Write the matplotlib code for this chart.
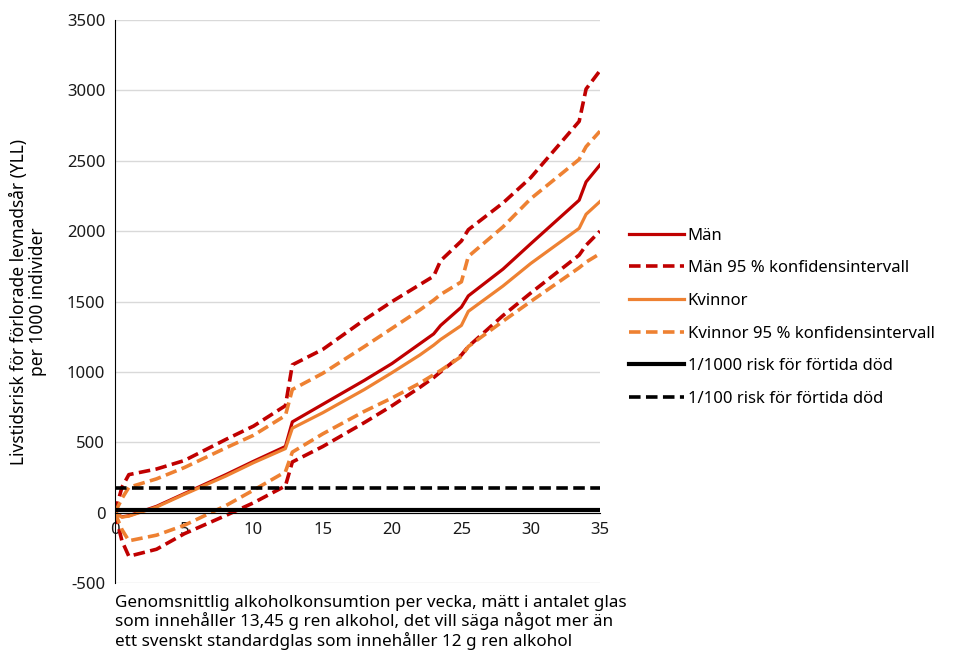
import matplotlib
matplotlib.use("Agg")
import matplotlib.pyplot as plt

plt.rcParams['font.family'] = ['Noto Sans', 'DejaVu Sans']
plt.rcParams['axes.unicode_minus'] = False

# glas per vecka
x = [0, 0.5, 1, 3, 5, 8, 10, 12.3, 12.8, 15, 18, 20, 22, 23, 23.5, 25, 25.5, 28, 30, 33.5, 34, 35]

man = [0, -30, -22, 45, 135, 270, 365, 470, 645, 770, 940, 1060, 1200, 1270, 1330, 1460, 1540, 1730, 1910, 2220, 2350, 2470]
man_hog = [0, 180, 270, 310, 370, 520, 615, 760, 1050, 1160, 1370, 1500, 1620, 1680, 1790, 1930, 2010, 2200, 2380, 2780, 3010, 3140]
man_lag = [0, -200, -310, -260, -150, -20, 70, 190, 360, 470, 640, 760, 890, 960, 1000, 1120, 1180, 1400, 1560, 1830, 1900, 2000]

kvinnor = [0, -32, -25, 40, 130, 260, 355, 455, 600, 710, 875, 995, 1120, 1190, 1230, 1330, 1430, 1610, 1770, 2020, 2120, 2210]
kv_hog = [0, 100, 180, 240, 320, 460, 550, 690, 875, 990, 1180, 1310, 1440, 1510, 1550, 1640, 1820, 2030, 2230, 2510, 2600, 2710]
kv_lag = [0, -120, -200, -160, -90, 50, 160, 290, 430, 560, 720, 815, 920, 980, 1010, 1110, 1180, 1360, 1500, 1740, 1780, 1840]

risk_1000 = 18
risk_100 = 178

red = '#C00000'
orange = '#EE8132'

fig = plt.figure(figsize=(9.63, 6.52), dpi=100)
ax = fig.add_axes([0.1194, 0.1058, 0.5036, 0.8635])

ax.plot(x, man, color=red, lw=2.3, label='Män')
ax.plot(x, man_hog, color=red, lw=2.6, dashes=(3.2, 1.5), label='Män 95 % konfidensintervall')
ax.plot(x, man_lag, color=red, lw=2.6, dashes=(3.2, 1.5))
ax.plot(x, kvinnor, color=orange, lw=2.3, label='Kvinnor')
ax.plot(x, kv_hog, color=orange, lw=2.6, dashes=(3.2, 1.5), label='Kvinnor 95 % konfidensintervall')
ax.plot(x, kv_lag, color=orange, lw=2.6, dashes=(3.2, 1.5))
ax.plot([0, 35], [risk_1000, risk_1000], color='black', lw=3, label='1/1000 risk för förtida död')
ax.plot([0, 35], [risk_100, risk_100], color='black', lw=2.6, dashes=(3.2, 1.5), label='1/100 risk för förtida död')

ax.set_xlim(0, 35)
ax.set_ylim(-500, 3500)
ax.set_yticks(range(-500, 3501, 500))
ax.set_xticks(range(0, 36, 5))
ax.grid(axis='y', color='#D9D9D9', lw=1)
ax.set_axisbelow(True)
for s in ['top', 'right']:
    ax.spines[s].set_visible(False)
ax.spines['bottom'].set_position(('data', 0))
ax.spines['bottom'].set_color('black')
ax.spines['left'].set_color('black')
ax.tick_params(length=0, labelsize=12, colors='#1a1a1a', pad=7)

ax.set_ylabel('Livstidsrisk för förlorade levnadsår (YLL)\nper 1000 individer', fontsize=12.5,
              labelpad=14, linespacing=1.1)

fig.text(0.1194, 0.087, 'Genomsnittlig alkoholkonsumtion per vecka, mätt i antalet glas\n'
         'som innehåller 13,45 g ren alkohol, det vill säga något mer än\n'
         'ett svenskt standardglas som innehåller 12 g ren alkohol',
         fontsize=12.3, ha='left', va='top', linespacing=1.08)

leg = ax.legend(loc='center left', bbox_to_anchor=(1.03, 0.472), frameon=False,
                fontsize=12, handlelength=3.3, handletextpad=0.2, labelspacing=1.0)

fig.savefig('out.png', dpi=100)
